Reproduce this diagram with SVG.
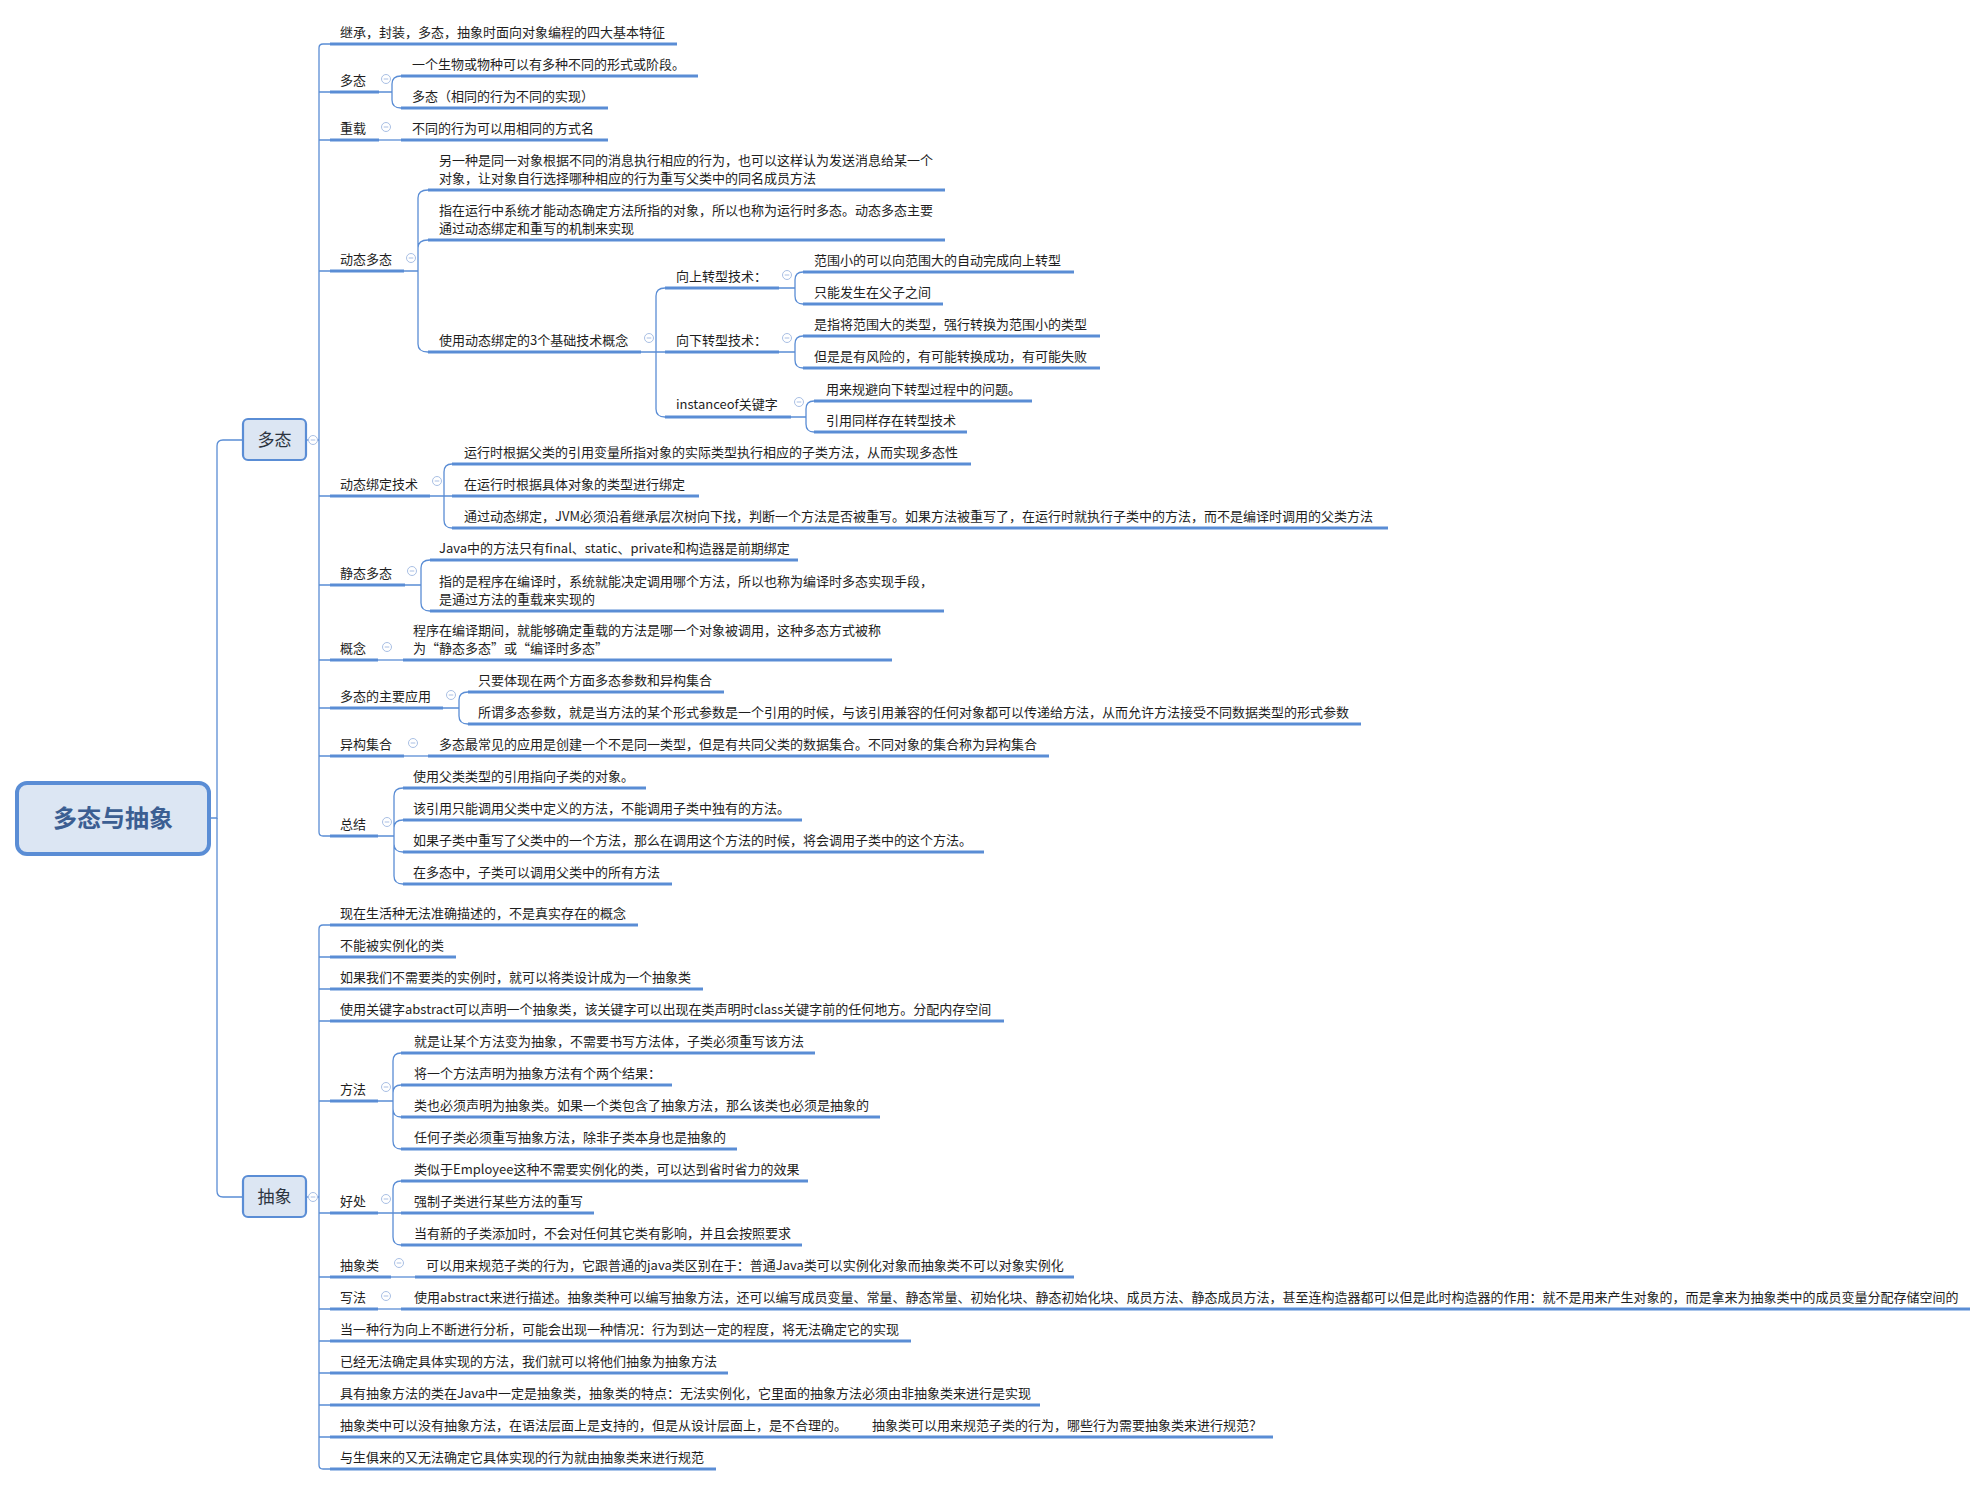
<svg xmlns="http://www.w3.org/2000/svg" xmlns:xlink="http://www.w3.org/1999/xlink" width="1988" height="1486" viewBox="0 0 1988 1486">
<style>
.t{font-family:"Noto Sans CJK SC","Liberation Sans",sans-serif;font-size:13px;fill:#1e1e1e}
.ul{stroke:#5a8dd5;stroke-width:3;fill:none}
.cn{stroke:#5a8dd5;stroke-width:1.3;fill:none}
.mb{fill:#dce6f3;stroke:#5a8dd5;stroke-width:2.2}
.mt{font-family:"Noto Sans CJK SC","Liberation Sans",sans-serif;font-size:17px;fill:#2c3440;text-anchor:middle}
.rt{font-family:"Noto Sans CJK SC","Liberation Sans",sans-serif;font-size:24px;font-weight:bold;fill:#3b5e92;text-anchor:middle}
</style>
<defs>
<g id="col"><circle r="4.5" fill="#fff" stroke="#a9bfe4" stroke-width="1"/><path d="M-2.3,0H2.3" stroke="#a9bfe4" stroke-width="1"/></g>
</defs>
<rect width="1988" height="1486" fill="#fff"/>

<g id="connectors">
<path class="cn" d="M209,818H217V446Q217,440 223,440H243"/>
<path class="cn" d="M217,818V1191Q217,1197 223,1197H243"/>
<path class="cn" d="M306,440H319"/>
<path class="cn" d="M306,1197H319"/>
<path class="cn" d="M330,44H323Q319,44 319,48V832Q319,836 323,836H330"/>
<path class="cn" d="M319,92H330M319,140H330M319,271H330M319,496H330M319,585H330M319,660H330M319,708H330M319,756H330"/>
<path class="cn" d="M330,925H323Q319,925 319,929V1465Q319,1469 323,1469H330"/>
<path class="cn" d="M319,957H330M319,989H330M319,1021H330M319,1101H330M319,1213H330M319,1277H330M319,1309H330M319,1341H330M319,1373H330M319,1405H330M319,1437H330"/>
<!-- 多态 sub -->
<path class="cn" d="M379,92H392M392,92V84Q392,76 401,76M392,92V100Q392,108 401,108"/>
<path class="cn" d="M379,140H401"/>
<!-- 动态多态 -->
<path class="cn" d="M404,271H418M418,271V198Q418,190 428,190M418,271V248Q418,240 428,240M418,271V344Q418,352 428,352"/>
<!-- 使用动态绑定 -->
<path class="cn" d="M641,352H665M656,352V296Q656,288 665,288M656,352V409Q656,417 665,417"/>
<path class="cn" d="M779,288H795M795,288V280Q795,272 803,272M795,288V296Q795,304 803,304"/>
<path class="cn" d="M779,352H795M795,352V344Q795,336 803,336M795,352V360Q795,368 803,368"/>
<path class="cn" d="M791,417H806M806,417V409Q806,401 814,401M806,417V424Q806,432 814,432"/>
<!-- 动态绑定技术 -->
<path class="cn" d="M430,496H452M444,496V472Q444,464 452,464M444,496V520Q444,528 452,528"/>
<!-- 静态多态 -->
<path class="cn" d="M405,585H421M421,585V568Q421,560 430,560M421,585V603Q421,611 430,611"/>
<path class="cn" d="M378,660H403"/>
<!-- 多态的主要应用 -->
<path class="cn" d="M443,708H459M459,708V700Q459,692 468,692M459,708V716Q459,724 468,724"/>
<path class="cn" d="M404,756H428"/>
<!-- 总结 -->
<path class="cn" d="M378,836H394M394,836V796Q394,788 403,788M394,836V828Q394,820 403,820M394,836V844Q394,852 403,852M394,836V876Q394,884 403,884"/>
<!-- 方法 -->
<path class="cn" d="M378,1101H393M393,1101V1061Q393,1053 401,1053M393,1101V1093Q393,1085 401,1085M393,1101V1109Q393,1117 401,1117M393,1101V1141Q393,1149 401,1149"/>
<!-- 好处 -->
<path class="cn" d="M378,1213H401M393,1213V1189Q393,1181 401,1181M393,1213V1237Q393,1245 401,1245"/>
<path class="cn" d="M391,1277H415"/>
<path class="cn" d="M378,1309H401"/>
</g>

<g id="n-root">
<rect x="17" y="783" width="192" height="71" rx="10" fill="#dce6f3" stroke="#5a8dd5" stroke-width="4"/>
<text class="rt" x="113" y="827">多态与抽象</text>
</g>

<g id="n-duotai">
<rect class="mb" x="243" y="419" width="63" height="41" rx="5"/>
<text class="mt" x="274.5" y="446">多态</text>
<use href="#col" x="313" y="440"/>
</g>

<g id="n-chouxiang">
<rect class="mb" x="243" y="1176" width="63" height="41" rx="5"/>
<text class="mt" x="274.5" y="1203">抽象</text>
<use href="#col" x="313" y="1197"/>
</g>

<!-- 多态 children -->
<g id="n-d1"><text class="t" x="340" y="37">继承，封装，多态，抽象时面向对象编程的四大基本特征</text><path class="ul" d="M330,44H677"/></g>

<g id="n-d2"><text class="t" x="340" y="85">多态</text><path class="ul" d="M330,92H379"/><use href="#col" x="386" y="79"/></g>
<g id="n-d2a"><text class="t" x="412" y="69">一个生物或物种可以有多种不同的形式或阶段。</text><path class="ul" d="M401,76H698"/></g>
<g id="n-d2b"><text class="t" x="412" y="101">多态（相同的行为不同的实现）</text><path class="ul" d="M401,108H608"/></g>

<g id="n-d3"><text class="t" x="340" y="133">重载</text><path class="ul" d="M330,140H379"/><use href="#col" x="386" y="127"/></g>
<g id="n-d3a"><text class="t" x="412" y="133">不同的行为可以用相同的方式名</text><path class="ul" d="M401,140H608"/></g>

<g id="n-d4"><text class="t" x="340" y="264">动态多态</text><path class="ul" d="M330,271H404"/><use href="#col" x="411" y="258"/></g>
<g id="n-d4a"><text class="t" x="439" y="165">另一种是同一对象根据不同的消息执行相应的行为，也可以这样认为发送消息给某一个</text><text class="t" x="439" y="183">对象，让对象自行选择哪种相应的行为重写父类中的同名成员方法</text><path class="ul" d="M428,190H945"/></g>
<g id="n-d4b"><text class="t" x="439" y="215">指在运行中系统才能动态确定方法所指的对象，所以也称为运行时多态。动态多态主要</text><text class="t" x="439" y="233">通过动态绑定和重写的机制来实现</text><path class="ul" d="M428,240H945"/></g>
<g id="n-d4c"><text class="t" x="439" y="345">使用动态绑定的3个基础技术概念</text><path class="ul" d="M428,352H641"/><use href="#col" x="649" y="338"/></g>
<g id="n-up"><text class="t" x="676" y="281">向上转型技术：</text><path class="ul" d="M665,288H779"/><use href="#col" x="787" y="275"/></g>
<g id="n-up1"><text class="t" x="814" y="265">范围小的可以向范围大的自动完成向上转型</text><path class="ul" d="M803,272H1074"/></g>
<g id="n-up2"><text class="t" x="814" y="297">只能发生在父子之间</text><path class="ul" d="M803,304H943"/></g>
<g id="n-down"><text class="t" x="676" y="345">向下转型技术：</text><path class="ul" d="M665,352H779"/><use href="#col" x="787" y="338"/></g>
<g id="n-down1"><text class="t" x="814" y="329">是指将范围大的类型，强行转换为范围小的类型</text><path class="ul" d="M803,336H1100"/></g>
<g id="n-down2"><text class="t" x="814" y="361">但是是有风险的，有可能转换成功，有可能失败</text><path class="ul" d="M803,368H1100"/></g>
<g id="n-inst"><text class="t" x="676" y="409">instanceof关键字</text><path class="ul" d="M665,417H791"/><use href="#col" x="799" y="402"/></g>
<g id="n-inst1"><text class="t" x="826" y="394">用来规避向下转型过程中的问题。</text><path class="ul" d="M814,401H1032"/></g>
<g id="n-inst2"><text class="t" x="826" y="425">引用同样存在转型技术</text><path class="ul" d="M814,432H967"/></g>

<g id="n-d5"><text class="t" x="340" y="489">动态绑定技术</text><path class="ul" d="M330,496H430"/><use href="#col" x="437" y="481"/></g>
<g id="n-d5a"><text class="t" x="464" y="457">运行时根据父类的引用变量所指对象的实际类型执行相应的子类方法，从而实现多态性</text><path class="ul" d="M452,464H971"/></g>
<g id="n-d5b"><text class="t" x="464" y="489">在运行时根据具体对象的类型进行绑定</text><path class="ul" d="M452,496H699"/></g>
<g id="n-d5c"><text class="t" x="464" y="521">通过动态绑定，JVM必须沿着继承层次树向下找，判断一个方法是否被重写。如果方法被重写了，在运行时就执行子类中的方法，而不是编译时调用的父类方法</text><path class="ul" d="M452,528H1388"/></g>

<g id="n-d6"><text class="t" x="340" y="578">静态多态</text><path class="ul" d="M330,585H405"/><use href="#col" x="412" y="571"/></g>
<g id="n-d6a"><text class="t" x="439" y="553">Java中的方法只有final、static、private和构造器是前期绑定</text><path class="ul" d="M430,560H798"/></g>
<g id="n-d6b"><text class="t" x="439" y="586">指的是程序在编译时，系统就能决定调用哪个方法，所以也称为编译时多态实现手段，</text><text class="t" x="439" y="604">是通过方法的重载来实现的</text><path class="ul" d="M430,611H944"/></g>

<g id="n-d7"><text class="t" x="340" y="653">概念</text><path class="ul" d="M330,660H378"/><use href="#col" x="387" y="647"/></g>
<g id="n-d7a"><text class="t" x="413" y="635">程序在编译期间，就能够确定重载的方法是哪一个对象被调用，这种多态方式被称</text><text class="t" x="413" y="653">为“静态多态”或“编译时多态”</text><path class="ul" d="M403,660H892"/></g>

<g id="n-d8"><text class="t" x="340" y="701">多态的主要应用</text><path class="ul" d="M330,708H443"/><use href="#col" x="451" y="695"/></g>
<g id="n-d8a"><text class="t" x="478" y="685">只要体现在两个方面多态参数和异构集合</text><path class="ul" d="M468,692H724"/></g>
<g id="n-d8b"><text class="t" x="478" y="717">所谓多态参数，就是当方法的某个形式参数是一个引用的时候，与该引用兼容的任何对象都可以传递给方法，从而允许方法接受不同数据类型的形式参数</text><path class="ul" d="M468,724H1361"/></g>

<g id="n-d9"><text class="t" x="340" y="749">异构集合</text><path class="ul" d="M330,756H404"/><use href="#col" x="413" y="743"/></g>
<g id="n-d9a"><text class="t" x="439" y="749">多态最常见的应用是创建一个不是同一类型，但是有共同父类的数据集合。不同对象的集合称为异构集合</text><path class="ul" d="M428,756H1049"/></g>

<g id="n-d10"><text class="t" x="340" y="829">总结</text><path class="ul" d="M330,836H378"/><use href="#col" x="387" y="822"/></g>
<g id="n-d10a"><text class="t" x="413" y="781">使用父类类型的引用指向子类的对象。</text><path class="ul" d="M403,788H646"/></g>
<g id="n-d10b"><text class="t" x="413" y="813">该引用只能调用父类中定义的方法，不能调用子类中独有的方法。</text><path class="ul" d="M403,820H802"/></g>
<g id="n-d10c"><text class="t" x="413" y="845">如果子类中重写了父类中的一个方法，那么在调用这个方法的时候，将会调用子类中的这个方法。</text><path class="ul" d="M403,852H984"/></g>
<g id="n-d10d"><text class="t" x="413" y="877">在多态中，子类可以调用父类中的所有方法</text><path class="ul" d="M403,884H672"/></g>

<!-- 抽象 children -->
<g id="n-c1"><text class="t" x="340" y="918">现在生活种无法准确描述的，不是真实存在的概念</text><path class="ul" d="M330,925H638"/></g>
<g id="n-c2"><text class="t" x="340" y="950">不能被实例化的类</text><path class="ul" d="M330,957H456"/></g>
<g id="n-c3"><text class="t" x="340" y="982">如果我们不需要类的实例时，就可以将类设计成为一个抽象类</text><path class="ul" d="M330,989H703"/></g>
<g id="n-c4"><text class="t" x="340" y="1014">使用关键字abstract可以声明一个抽象类，该关键字可以出现在类声明时class关键字前的任何地方。分配内存空间</text><path class="ul" d="M330,1021H1004"/></g>

<g id="n-c5"><text class="t" x="340" y="1094">方法</text><path class="ul" d="M330,1101H378"/><use href="#col" x="386" y="1087"/></g>
<g id="n-c5a"><text class="t" x="414" y="1046">就是让某个方法变为抽象，不需要书写方法体，子类必须重写该方法</text><path class="ul" d="M401,1053H815"/></g>
<g id="n-c5b"><text class="t" x="414" y="1078">将一个方法声明为抽象方法有个两个结果：</text><path class="ul" d="M401,1085H672"/></g>
<g id="n-c5c"><text class="t" x="414" y="1110">类也必须声明为抽象类。如果一个类包含了抽象方法，那么该类也必须是抽象的</text><path class="ul" d="M401,1117H880"/></g>
<g id="n-c5d"><text class="t" x="414" y="1142">任何子类必须重写抽象方法，除非子类本身也是抽象的</text><path class="ul" d="M401,1149H737"/></g>

<g id="n-c6"><text class="t" x="340" y="1206">好处</text><path class="ul" d="M330,1213H378"/><use href="#col" x="386" y="1199"/></g>
<g id="n-c6a"><text class="t" x="414" y="1174">类似于Employee这种不需要实例化的类，可以达到省时省力的效果</text><path class="ul" d="M401,1181H808"/></g>
<g id="n-c6b"><text class="t" x="414" y="1206">强制子类进行某些方法的重写</text><path class="ul" d="M401,1213H594"/></g>
<g id="n-c6c"><text class="t" x="414" y="1238">当有新的子类添加时，不会对任何其它类有影响，并且会按照要求</text><path class="ul" d="M401,1245H802"/></g>

<g id="n-c7"><text class="t" x="340" y="1270">抽象类</text><path class="ul" d="M330,1277H391"/><use href="#col" x="399" y="1263"/></g>
<g id="n-c7a"><text class="t" x="426" y="1270">可以用来规范子类的行为，它跟普通的java类区别在于：普通Java类可以实例化对象而抽象类不可以对象实例化</text><path class="ul" d="M415,1277H1074"/></g>

<g id="n-c8"><text class="t" x="340" y="1302">写法</text><path class="ul" d="M330,1309H378"/><use href="#col" x="386" y="1296"/></g>
<g id="n-c8a"><text class="t" x="414" y="1302">使用abstract来进行描述。抽象类种可以编写抽象方法，还可以编写成员变量、常量、静态常量、初始化块、静态初始化块、成员方法、静态成员方法，甚至连构造器都可以但是此时构造器的作用：就不是用来产生对象的，而是拿来为抽象类中的成员变量分配存储空间的</text><path class="ul" d="M401,1309H1970"/></g>

<g id="n-c9"><text class="t" x="340" y="1334">当一种行为向上不断进行分析，可能会出现一种情况：行为到达一定的程度，将无法确定它的实现</text><path class="ul" d="M330,1341H911"/></g>
<g id="n-c10"><text class="t" x="340" y="1366">已经无法确定具体实现的方法，我们就可以将他们抽象为抽象方法</text><path class="ul" d="M330,1373H728"/></g>
<g id="n-c11"><text class="t" x="340" y="1398">具有抽象方法的类在Java中一定是抽象类，抽象类的特点：无法实例化，它里面的抽象方法必须由非抽象类来进行是实现</text><path class="ul" d="M330,1405H1040"/></g>
<g id="n-c12"><text class="t" x="340" y="1430">抽象类中可以没有抽象方法，在语法层面上是支持的，但是从设计层面上，是不合理的。<tspan x="872">抽象类可以用来规范子类的行为，哪些行为需要抽象类来进行规范？</tspan></text><path class="ul" d="M330,1437H1273"/></g>
<g id="n-c13"><text class="t" x="340" y="1462">与生俱来的又无法确定它具体实现的行为就由抽象类来进行规范</text><path class="ul" d="M330,1469H716"/></g>
</svg>
